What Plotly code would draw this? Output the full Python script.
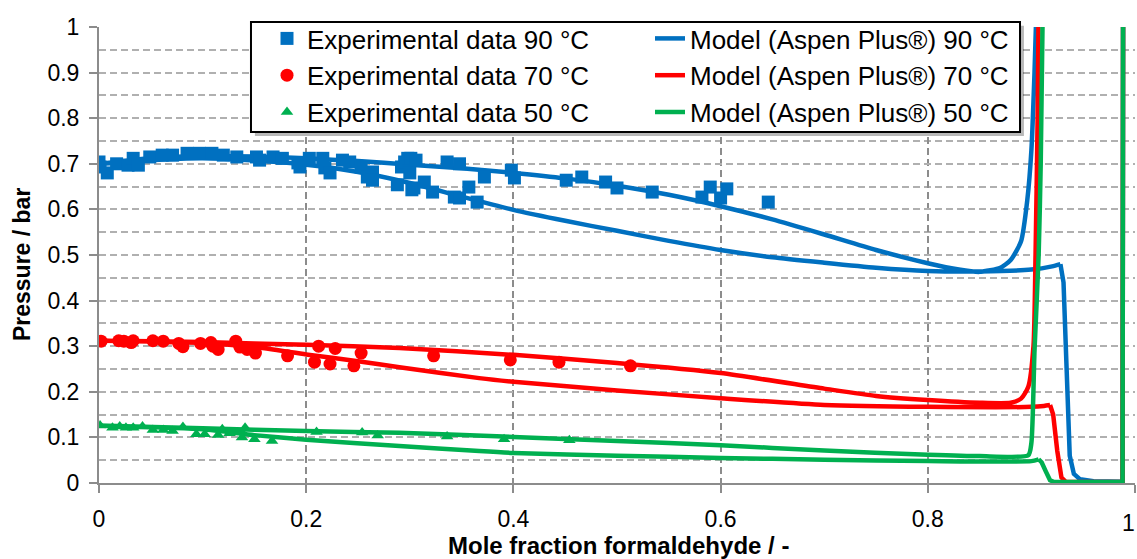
import plotly.graph_objects as go

# ---------------- data ----------------
# Experimental data (mole fraction formaldehyde, pressure in bar)
exp90_x = [0.000, 0.001, 0.008, 0.017, 0.028, 0.033, 0.038, 0.049, 0.061, 0.071, 0.085, 0.097,
           0.109, 0.120, 0.133, 0.152, 0.155, 0.168, 0.177, 0.192, 0.194, 0.203, 0.216, 0.218,
           0.223, 0.235, 0.242, 0.253, 0.259, 0.264, 0.264, 0.288, 0.292, 0.295, 0.298, 0.301,
           0.306, 0.300, 0.302, 0.304, 0.314, 0.322, 0.336, 0.343, 0.348, 0.348, 0.357, 0.365,
           0.372, 0.398, 0.401, 0.451, 0.466, 0.489, 0.500, 0.534, 0.582, 0.590, 0.600, 0.606,
           0.646]
exp90_y = [0.704, 0.693, 0.680, 0.700, 0.697, 0.712, 0.697, 0.715, 0.719, 0.719, 0.723, 0.723,
           0.723, 0.719, 0.715, 0.715, 0.708, 0.715, 0.712, 0.702, 0.693, 0.712, 0.712, 0.691,
           0.680, 0.708, 0.704, 0.693, 0.671, 0.682, 0.664, 0.654, 0.693, 0.704, 0.712, 0.712,
           0.708, 0.680, 0.643, 0.647, 0.660, 0.638, 0.704, 0.627, 0.700, 0.625, 0.649, 0.616,
           0.671, 0.686, 0.669, 0.664, 0.671, 0.660, 0.647, 0.638, 0.627, 0.649, 0.625, 0.645,
           0.616]

exp70_x = [0.002, 0.019, 0.024, 0.031, 0.033, 0.052, 0.062, 0.077, 0.081, 0.098, 0.108, 0.110,
           0.115, 0.132, 0.136, 0.143, 0.151, 0.182, 0.212, 0.208, 0.223, 0.228, 0.246, 0.253,
           0.323, 0.397, 0.444, 0.513]
exp70_y = [0.311, 0.312, 0.311, 0.308, 0.312, 0.312, 0.311, 0.306, 0.299, 0.306, 0.308, 0.300,
           0.293, 0.311, 0.298, 0.293, 0.285, 0.279, 0.300, 0.265, 0.261, 0.295, 0.257, 0.285,
           0.279, 0.270, 0.265, 0.257]

exp50_x = [0.001, 0.013, 0.020, 0.026, 0.033, 0.042, 0.052, 0.062, 0.071, 0.081, 0.094, 0.102,
           0.115, 0.119, 0.126, 0.138, 0.141, 0.150, 0.167, 0.210, 0.254, 0.269, 0.336, 0.391,
           0.454]
exp50_y = [0.126, 0.121, 0.124, 0.121, 0.121, 0.124, 0.116, 0.116, 0.114, 0.123, 0.107, 0.107,
           0.105, 0.118, 0.109, 0.100, 0.121, 0.096, 0.092, 0.112, 0.111, 0.104, 0.102, 0.096,
           0.094]

# Model (Aspen Plus) curves: upper branch, lower branch (up to its peak) and the
# tail (drop to zero, flat part, vertical rise at the right) for each temperature
m90_up_x = [0.0, 0.02, 0.05, 0.1, 0.15, 0.2, 0.25, 0.3, 0.35, 0.4, 0.45, 0.5, 0.55, 0.6, 0.65,
            0.7, 0.75, 0.8, 0.83, 0.85, 0.87, 0.88, 0.89, 0.896, 0.9, 0.903, 0.905]
m90_up_y = [0.700, 0.705, 0.712, 0.717, 0.716, 0.712, 0.706, 0.698, 0.690, 0.680, 0.668, 0.652,
            0.632, 0.607, 0.578, 0.545, 0.511, 0.482, 0.468, 0.463, 0.472, 0.489, 0.530, 0.620,
            0.730, 0.900, 1.050]
m90_lo_x = [0.0, 0.05, 0.1, 0.15, 0.2, 0.25, 0.3, 0.35, 0.4, 0.45, 0.5, 0.55, 0.6, 0.65, 0.7,
            0.75, 0.8, 0.85, 0.9, 0.92, 0.928]
m90_lo_y = [0.700, 0.708, 0.712, 0.707, 0.698, 0.682, 0.658, 0.628, 0.599, 0.575, 0.553, 0.531,
            0.511, 0.495, 0.483, 0.472, 0.465, 0.464, 0.468, 0.475, 0.480]
m90_tail_x = [0.928, 0.931, 0.934, 0.937, 0.941, 0.947, 0.96, 0.988, 0.9885]
m90_tail_y = [0.480, 0.440, 0.250, 0.060, 0.020, 0.008, 0.004, 0.003, 1.050]

m70_up_x = [0.0, 0.1, 0.2, 0.29, 0.4, 0.5, 0.6, 0.7, 0.75, 0.8, 0.85, 0.88, 0.89, 0.897, 0.902,
            0.904, 0.906, 0.907]
m70_up_y = [0.312, 0.309, 0.303, 0.296, 0.281, 0.263, 0.241, 0.207, 0.191, 0.182, 0.176, 0.176,
            0.185, 0.211, 0.300, 0.500, 0.800, 1.050]
m70_lo_x = [0.0, 0.1, 0.15, 0.2, 0.25, 0.29, 0.367, 0.4, 0.5, 0.6, 0.7, 0.8, 0.9, 0.912, 0.918]
m70_lo_y = [0.312, 0.307, 0.298, 0.282, 0.267, 0.254, 0.230, 0.222, 0.203, 0.186, 0.171, 0.167,
            0.167, 0.169, 0.171]
m70_tail_x = [0.918, 0.921, 0.925, 0.929, 0.933, 0.94, 0.988, 0.9885]
m70_tail_y = [0.171, 0.150, 0.070, 0.012, 0.003, 0.002, 0.002, 1.050]

m50_up_x = [0.0, 0.1, 0.2, 0.29, 0.4, 0.5, 0.6, 0.7, 0.8, 0.85, 0.897, 0.9, 0.903, 0.907, 0.909,
            0.911]
m50_up_y = [0.126, 0.120, 0.114, 0.110, 0.101, 0.092, 0.083, 0.071, 0.062, 0.059, 0.061, 0.088,
            0.290, 0.500, 0.700, 1.050]
m50_lo_x = [0.0, 0.1, 0.15, 0.2, 0.29, 0.367, 0.4, 0.5, 0.6, 0.7, 0.8, 0.9, 0.907]
m50_lo_y = [0.126, 0.118, 0.105, 0.095, 0.081, 0.070, 0.066, 0.060, 0.055, 0.051, 0.048, 0.048,
            0.052]
m50_tail_x = [0.907, 0.910, 0.914, 0.918, 0.922, 0.95, 0.988, 0.9885]
m50_tail_y = [0.052, 0.045, 0.025, 0.006, 0.002, 0.002, 0.002, 1.050]

x_ticks = [0, 0.2, 0.4, 0.6, 0.8]
y_ticks = [0, 0.1, 0.2, 0.3, 0.4, 0.5, 0.6, 0.7, 0.8, 0.9, 1]

# ---------------- styling ----------------
BLUE = "#0070C0"
RED = "#FF0000"
GREEN = "#00B050"
FONT = "Liberation Sans, Arial, sans-serif"


def loop(up_x, up_y, lo_x, lo_y):
    xs = list(reversed(lo_x)) + up_x[1:]
    ys = list(reversed(lo_y)) + up_y[1:]
    return xs, ys


fig = go.Figure()

models = [
    ("Model (Aspen Plus®) 90 °C", BLUE, m90_up_x, m90_up_y, m90_lo_x, m90_lo_y,
     m90_tail_x, m90_tail_y, 2, "g90"),
    ("Model (Aspen Plus®) 70 °C", RED, m70_up_x, m70_up_y, m70_lo_x, m70_lo_y,
     m70_tail_x, m70_tail_y, 4, "g70"),
    ("Model (Aspen Plus®) 50 °C", GREEN, m50_up_x, m50_up_y, m50_lo_x, m50_lo_y,
     m50_tail_x, m50_tail_y, 6, "g50"),
]
for name, col, ux, uy, lx, ly, tx, ty, rank, grp in models:
    xs, ys = loop(ux, uy, lx, ly)
    fig.add_trace(go.Scatter(x=xs, y=ys, mode="lines", name=name, legendrank=rank,
                             legendgroup=grp,
                             line=dict(color=col, width=4.5, shape="spline", smoothing=0.6)))
    fig.add_trace(go.Scatter(x=tx, y=ty, mode="lines", name=name, legendgroup=grp,
                             showlegend=False,
                             line=dict(color=col, width=4.5)))

exps = [
    ("Experimental data 90 °C", BLUE, "square", 13, exp90_x, exp90_y, 1),
    ("Experimental data 70 °C", RED, "circle", 13, exp70_x, exp70_y, 3),
    ("Experimental data 50 °C", GREEN, "triangle-up", 11, exp50_x, exp50_y, 5),
]
for name, col, sym, sz, xs, ys, rank in exps:
    fig.add_trace(go.Scatter(x=xs, y=ys, mode="markers", name=name, legendrank=rank,
                             marker=dict(color=col, symbol=sym, size=sz, line=dict(width=0))))

# legend box (with shadow) drawn as shapes
fig.add_shape(type="rect", xref="paper", yref="paper", layer="above",
              x0=0.1505, x1=0.8928, y0=0.7610, y1=1.0025,
              fillcolor="rgba(0,0,0,0.28)", line=dict(width=0))
fig.add_shape(type="rect", xref="paper", yref="paper", layer="above",
              x0=0.1467, x1=0.889, y0=0.7697, y1=1.011,
              fillcolor="white", line=dict(color="black", width=2))

fig.add_annotation(text="<b>Mole fraction formaldehyde / -</b>", xref="paper", yref="paper",
                   x=0.501, y=(483 - 545) / 456, xanchor="center", yanchor="middle", showarrow=False,
                   font=dict(family=FONT, size=24, color="black"))
fig.add_annotation(text="<b>Pressure / bar</b>", xref="paper", yref="paper", textangle=-90,
                   x=-0.0743, y=0.478, xanchor="center", yanchor="middle", showarrow=False,
                   font=dict(family=FONT, size=23, color="black"))
# tick label "1" at the right end of the x axis (kept inside the page)
fig.add_annotation(text="1", xref="x", yref="paper", x=1, y=(483 - 523) / 456,
                   xanchor="right", yanchor="middle", showarrow=False, xshift=2,
                   font=dict(family=FONT, size=23, color="black"))

fig.update_layout(
    width=1137, height=559,
    margin=dict(l=99, r=2, t=27, b=76),
    paper_bgcolor="white", plot_bgcolor="white",
    font=dict(family=FONT, color="black"),
    showlegend=True,
    legend=dict(orientation="h", x=(267 - 99) / 1036, y=(483 - 15) / 456,
                xanchor="left", yanchor="top", entrywidth=338, entrywidthmode="pixels",
                bgcolor="rgba(0,0,0,0)", borderwidth=0, traceorder="normal",
                font=dict(family=FONT, size=26, color="black")),
    xaxis=dict(range=[0, 1], tickmode="array", tickvals=x_ticks + [1],
               ticktext=[f"{v:g}" for v in x_ticks] + [""],
               showgrid=True, gridcolor="#8C8C8C", griddash="7px,4px", gridwidth=1.5,
               showline=True, linecolor="#8C8C8C", linewidth=2, zeroline=False,
               ticks="outside", ticklen=8, tickwidth=2, tickcolor="#8C8C8C",
               ticklabelstandoff=6,
               tickfont=dict(family=FONT, size=23, color="black")),
    yaxis=dict(range=[0, 1], tickmode="array", tickvals=y_ticks, ticktext=[f"{v:g}" for v in y_ticks],
               showgrid=True, gridcolor="#B0B0B0", griddash="7px,4px", gridwidth=1.5,
               minor=dict(dtick=0.05, tick0=0, showgrid=True, gridcolor="#B0B0B0",
                          griddash="7px,4px", gridwidth=1.5, ticks=""),
               showline=True, linecolor="#8C8C8C", linewidth=2, zeroline=False,
               ticks="outside", ticklen=8, tickwidth=2, tickcolor="#8C8C8C",
               ticklabelstandoff=5,
               tickfont=dict(family=FONT, size=23, color="black")),
)

fig.write_html("out.html")
